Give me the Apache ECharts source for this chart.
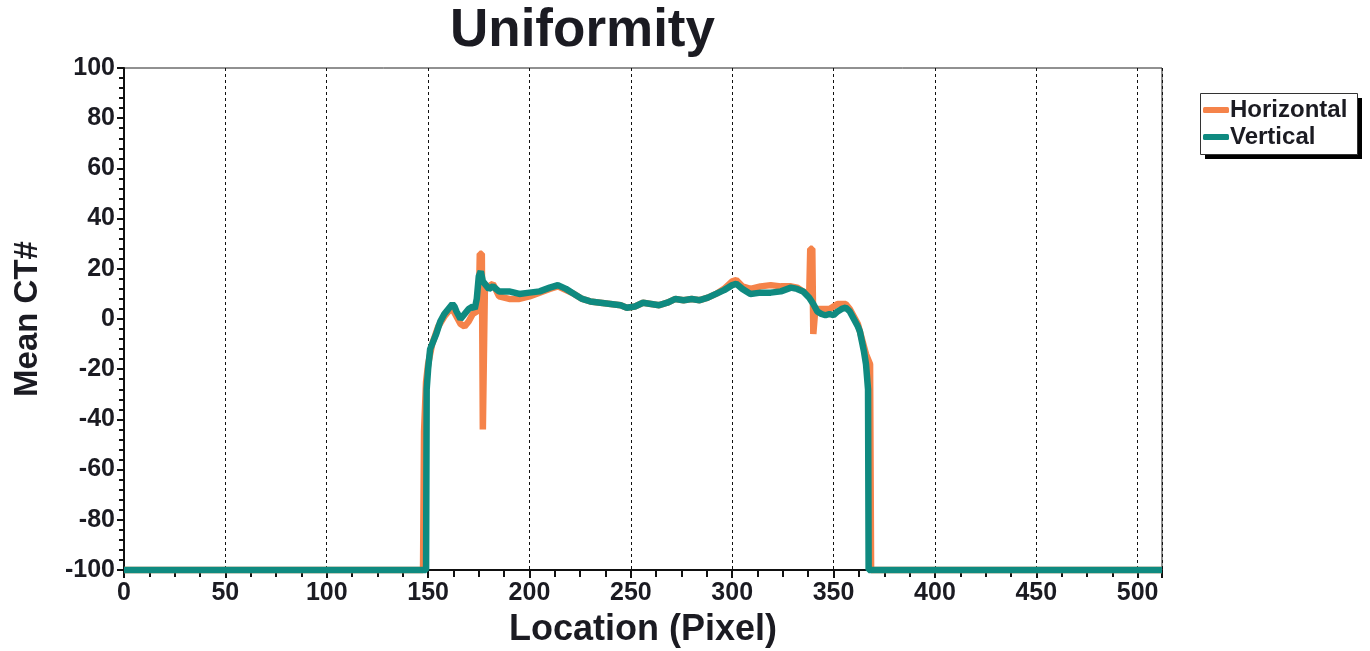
<!DOCTYPE html>
<html>
<head>
<meta charset="utf-8">
<script src="https://cdn.jsdelivr.net/npm/echarts@6/dist/echarts.min.js"></script>
<style>
  html, body { margin: 0; padding: 0; background: #fff; overflow: hidden; }
  #chart { width: 1370px; height: 651px; }
</style>
</head>
<body>
<div id="chart"></div>
<script>
// Profile locations (pixel) and mean CT numbers for each direction
const horizontalLoc = [0, 147.5, 148, 149, 150, 152, 155, 158, 160, 162, 164, 166, 168, 170, 172, 174, 175, 175.5, 176.5, 177, 177.5, 178, 180, 182, 185, 190, 195, 200, 205, 210, 214, 218, 222, 226, 230, 235, 240, 245, 248, 252, 256, 260, 264, 268, 272, 276, 280, 284, 288, 292, 296, 300, 302, 305, 309, 314, 319, 324, 329, 332, 335, 338, 338.5, 339.5, 340, 340.5, 341, 344, 348, 352, 356, 358, 360, 362, 364, 366, 368, 368.5, 512];
const horizontalVal = [-100, -100, -45, -25, -18, -10, -3, 1, 3, 4, 1, -2, -3, -1, 2, 3, 4, 26, 26, -44, -44, 12, 13, 14, 9, 8, 8, 9, 10.5, 12, 13, 11.5, 10, 8, 7, 6.5, 6, 5.5, 4.5, 5, 6.5, 6, 5.5, 6.5, 8, 7.5, 8, 7.5, 8.5, 10, 12, 15, 15.5, 13, 12, 13, 13.5, 13, 13, 12.5, 11, 10, 28, 28, -6, -6, 4, 4, 4, 6, 6, 4, 1, -2, -8, -14, -18, -100, -100];

const verticalLoc = [0, 149, 149.3, 150, 151, 152, 154, 156, 158, 160, 162, 163, 164, 166, 168, 170, 172, 173, 174, 175, 176, 177, 178, 180, 182, 185, 188, 190, 195, 200, 205, 210, 214, 218, 222, 226, 230, 235, 240, 245, 248, 252, 256, 260, 264, 268, 272, 276, 280, 284, 288, 292, 296, 300, 302, 305, 309, 314, 319, 324, 329, 332, 335, 338, 340, 342, 344, 346, 348, 350, 352, 354, 356, 358, 360, 362, 363, 364, 365, 366, 367, 367.3, 512];
const verticalVal = [-100, -100, -28, -20, -12, -10, -6, -1, 2, 4, 6, 5, 3, 0, 2, 4, 5, 4, 8, 17, 19, 15, 14, 12, 13, 11, 11, 11, 10, 10.5, 11, 12.5, 13.5, 12, 10, 8, 7, 6.5, 6, 5.5, 4.5, 5, 6.5, 6, 5.5, 6.5, 8, 7.5, 8, 7.5, 8.5, 10, 11.5, 13.5, 14, 12, 10, 10.5, 10.5, 11, 12.5, 12, 11, 8.5, 6, 3, 2, 1.5, 2, 1.5, 3, 4, 4.5, 3, 0, -3, -5, -9, -13, -18, -28, -100, -100];

const seriesNames = ['Horizontal', 'Vertical'];
const seriesColors = ['#f5834a', '#0f8a80'];

const pair = (xs, ys) => xs.map((x, i) => [x, ys[i]]);

const textColor = '#1b1b22';
const font = 'Liberation Sans, Arial, sans-serif';

const chart = echarts.init(document.getElementById('chart'), null, { renderer: 'canvas' });
chart.setOption({
  animation: false,
  backgroundColor: '#ffffff',
  title: {
    text: 'Uniformity',
    left: 445,
    top: 0,
    textStyle: { fontFamily: font, fontWeight: 'bold', fontSize: 53, color: textColor }
  },
  // legend frame with a solid drop shadow
  graphic: [
    { type: 'rect', left: 1205, top: 98, shape: { width: 157, height: 61 }, style: { fill: '#000' }, z: 1 },
    { type: 'rect', left: 1200, top: 93, shape: { width: 157, height: 61 }, style: { fill: '#fff', stroke: '#333', lineWidth: 1 }, z: 2 }
  ],
  legend: {
    orient: 'vertical',
    left: 1201,
    top: 98,
    data: seriesNames,
    icon: 'roundRect',
    itemWidth: 26,
    itemHeight: 6,
    itemGap: 3,
    padding: [0, 0, 0, 2],
    z: 5,
    textStyle: { fontFamily: font, fontWeight: 'bold', fontSize: 24, color: textColor, padding: [0, 0, 0, -4] }
  },
  grid: {
    left: 124, right: 208, top: 68, bottom: 81,
    outerBoundsMode: 'none',
    containLabel: false,
    show: true, borderColor: '#222', borderWidth: 1, backgroundColor: 'transparent'
  },
  xAxis: {
    type: 'value',
    min: 0, max: 512, interval: 50,
    name: 'Location (Pixel)',
    nameLocation: 'middle',
    nameGap: 42,
    nameTextStyle: { fontFamily: font, fontWeight: 'bold', fontSize: 36, color: textColor },
    axisLine: { show: true, onZero: false, lineStyle: { color: '#111', width: 2 } },
    axisTick: { show: true, length: 8, lineStyle: { color: '#111', width: 2 } },
    minorTick: { show: true, splitNumber: 4, length: 7, lineStyle: { color: '#111', width: 2 } },
    axisLabel: { showMaxLabel: false, margin: 11, fontFamily: font, fontWeight: 'bold', fontSize: 25, color: textColor },
    splitLine: { show: true, lineStyle: { color: '#111', width: 1, type: [3, 3] } }
  },
  yAxis: {
    type: 'value',
    min: -100, max: 100, interval: 20,
    name: 'Mean CT#',
    nameLocation: 'middle',
    nameGap: 80,
    nameTextStyle: { fontFamily: font, fontWeight: 'bold', fontSize: 33, color: textColor },
    axisLine: { show: true, onZero: false, lineStyle: { color: '#111', width: 2 } },
    axisTick: { show: true, length: 7, lineStyle: { color: '#111', width: 2 } },
    minorTick: { show: true, splitNumber: 5, length: 5, lineStyle: { color: '#111', width: 2 } },
    axisLabel: { margin: 9, fontFamily: font, fontWeight: 'bold', fontSize: 25, color: textColor },
    splitLine: { show: false }
  },
  series: [
    {
      name: seriesNames[0],
      type: 'line',
      data: pair(horizontalLoc, horizontalVal),
      showSymbol: false,
      clip: false,
      color: seriesColors[0],
      lineStyle: { width: 6.5, color: seriesColors[0] },
      z: 3
    },
    {
      name: seriesNames[1],
      type: 'line',
      data: pair(verticalLoc, verticalVal),
      showSymbol: false,
      clip: false,
      color: seriesColors[1],
      lineStyle: { width: 6.5, color: seriesColors[1] },
      z: 4
    }
  ]
});
</script>
</body>
</html>
